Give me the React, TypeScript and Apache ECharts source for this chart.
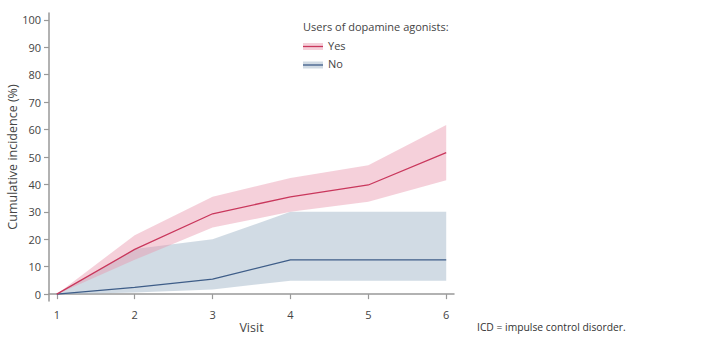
import React, { useEffect, useRef } from "react";
import * as echarts from "echarts";

const visits = [1, 2, 3, 4, 5, 6];
const yesEst = [0, 16.3, 29.3, 35.5, 39.8, 51.6];
const yesLow = [0, 12.5, 24.3, 30.0, 33.7, 41.5];
const yesHigh = [0, 21.5, 35.5, 42.3, 47.0, 61.7];
const noEst = [0, 2.5, 5.5, 12.5, 12.5, 12.5];
const noLow = [0, 0.6, 1.7, 4.9, 4.9, 4.9];
const noHigh = [0, 16.5, 20.0, 30.0, 30.0, 30.0];
const yTicks = [0, 10, 20, 30, 40, 50, 60, 70, 80, 90, 100];

const FONT = "'Open Sans', 'Noto Sans', sans-serif";
const YES_LINE = "#c9375c";
const YES_BAND = "rgba(232, 150, 172, 0.45)";
const NO_LINE = "#3e5d88";
const NO_BAND = "rgba(163, 184, 202, 0.5)";

const pts = (ys: number[]) => visits.map((v, i) => [v, ys[i]]);

const bandSeries = (low: number[], high: number[], color: string) => ({
  type: "custom",
  silent: true,
  data: [0],
  encode: { x: [], y: [] },
  renderItem: (_params: any, api: any) => {
    const upper = visits.map((v, i) => api.coord([v, high[i]]));
    const lower = visits.map((v, i) => api.coord([v, low[i]])).reverse();
    return {
      type: "polygon",
      shape: { points: upper.concat(lower) },
      style: { fill: color },
    };
  },
});

export default function App() {
  const ref = useRef<HTMLDivElement>(null);
  useEffect(() => {
    if (!ref.current) return;
    const chart = echarts.init(ref.current, undefined, { renderer: "svg" });
    const axisCommon = {
      axisLine: { show: true, lineStyle: { color: "#999", width: 1.5 } },
      axisTick: { show: true, length: 5, lineStyle: { color: "#999", width: 1.2 } },
      splitLine: { show: false },
      axisLabel: { color: "#444", fontSize: 11, fontFamily: FONT },
      nameTextStyle: { color: "#444", fontSize: 12.5, fontFamily: FONT },
      nameMoveOverlap: false,
    };
    chart.setOption({
      animation: false,
      grid: { left: 49, right: 259, top: 13, bottom: 47, containLabel: false, outerBoundsMode: "none" },
      xAxis: {
        type: "value",
        min: 0.9,
        max: 6.1,
        name: "Visit",
        nameLocation: "middle",
        nameGap: 20,
        ...axisCommon,
        axisTick: { ...axisCommon.axisTick, customValues: visits },
        axisLabel: { ...axisCommon.axisLabel, margin: 8, customValues: visits },
      },
      yAxis: {
        type: "value",
        min: -2.5,
        max: 102.5,
        name: "Cumulative incidence (%)",
        nameLocation: "middle",
        nameGap: 30,
        ...axisCommon,
        axisTick: { ...axisCommon.axisTick, customValues: yTicks },
        axisLabel: { ...axisCommon.axisLabel, margin: 8, customValues: yTicks },
      },
      series: [
        bandSeries(noLow, noHigh, NO_BAND),
        bandSeries(yesLow, yesHigh, YES_BAND),
        {
          name: "No",
          type: "line",
          data: pts(noEst),
          symbol: "none",
          lineStyle: { color: NO_LINE, width: 1.3 },
        },
        {
          name: "Yes",
          type: "line",
          data: pts(yesEst),
          symbol: "none",
          lineStyle: { color: YES_LINE, width: 1.3 },
        },
      ],
      graphic: [
        {
          type: "text",
          left: 303,
          top: 21,
          style: { text: "Users of dopamine agonists:", fill: "#444", fontSize: 11, fontFamily: FONT },
        },
        { type: "rect", shape: { x: 303, y: 43, width: 20, height: 7 }, style: { fill: YES_BAND } },
        { type: "line", shape: { x1: 303, y1: 46.5, x2: 323, y2: 46.5 }, style: { stroke: YES_LINE, lineWidth: 1.3 } },
        {
          type: "text",
          left: 328,
          top: 39.5,
          style: { text: "Yes", fill: "#444", fontSize: 11, fontFamily: FONT },
        },
        { type: "rect", shape: { x: 303, y: 61.5, width: 20, height: 7 }, style: { fill: NO_BAND } },
        { type: "line", shape: { x1: 303, y1: 65, x2: 323, y2: 65 }, style: { stroke: NO_LINE, lineWidth: 1.3 } },
        {
          type: "text",
          left: 328,
          top: 58,
          style: { text: "No", fill: "#444", fontSize: 11, fontFamily: FONT },
        },
        {
          type: "text",
          left: 477,
          top: 322,
          style: { text: "ICD = impulse control disorder.", fill: "#333", fontSize: 10.3, fontFamily: FONT },
        },
      ],
    });
    return () => chart.dispose();
  }, []);
  return (
    <div
      ref={ref}
      style={{ position: "absolute", left: 0, top: 0, width: 713, height: 348, background: "#fff" }}
    />
  );
}
